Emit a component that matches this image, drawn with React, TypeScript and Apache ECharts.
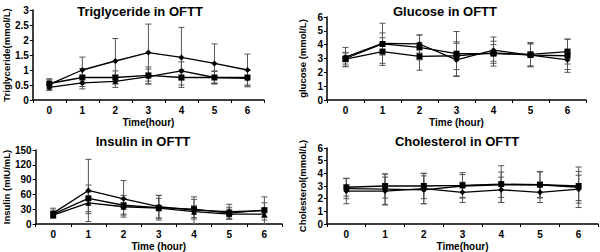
import React, { useEffect, useRef } from "react";
import * as echarts from "echarts";

const hours = ["0", "1", "2", "3", "4", "5", "6"];

const tgA = [0.52, 1.0, 1.3, 1.58, 1.42, 1.22, 1.0];
const tgASd = [0.18, 0.43, 0.75, 0.95, 1.0, 0.65, 0.53];
const tgB = [0.55, 0.75, 0.75, 0.82, 0.75, 0.75, 0.75];
const tgBSd = [0.15, 0.3, 0.22, 0.28, 0.25, 0.22, 0.25];
const tgC = [0.42, 0.57, 0.62, 0.78, 0.97, 0.75, 0.72];
const tgCSd = [0.1, 0.2, 0.2, 0.25, 0.3, 0.2, 0.28];

const gluA = [3.1, 4.1, 4.05, 2.9, 3.6, 3.25, 2.9];
const gluASd = [0.7, 1.45, 0.65, 1.2, 0.95, 0.85, 0.7];
const gluB = [3.0, 4.05, 3.8, 3.35, 3.35, 3.3, 3.5];
const gluBSd = [0.4, 0.8, 0.9, 1.6, 0.9, 0.85, 0.9];
const gluC = [2.95, 3.5, 3.15, 3.2, 3.4, 3.25, 3.2];
const gluCSd = [0.5, 1.0, 1.0, 1.0, 0.6, 0.8, 1.2];

const insA = [22, 68, 51, 35, 28, 25, 27];
const insASd = [10, 63, 37, 23, 27, 15, 28];
const insB = [20, 52, 38, 33, 30, 22, 28];
const insBSd = [8, 27, 20, 25, 20, 12, 15];
const insC = [18, 43, 35, 32, 25, 20, 20];
const insCSd = [6, 22, 15, 20, 12, 10, 12];

const chA = [2.9, 3.0, 3.0, 3.05, 3.15, 3.1, 3.0];
const chASd = [0.7, 0.95, 1.0, 1.0, 1.45, 1.05, 1.15];
const chB = [2.8, 2.75, 2.7, 3.0, 3.1, 3.1, 2.9];
const chBSd = [0.8, 1.2, 1.1, 0.9, 1.0, 1.0, 1.6];
const chC = [2.6, 2.6, 2.8, 2.5, 2.7, 2.5, 2.75];
const chCSd = [1.0, 1.1, 1.2, 0.8, 1.0, 0.8, 1.1];

const FONT = "Liberation Sans, Arial, sans-serif";

function errSeries(idx: number, mean: number[], sd: number[]) {
  return {
    type: "custom",
    xAxisIndex: idx,
    yAxisIndex: idx,
    z: 1,
    silent: true,
    data: mean.map((m, i) => [i, Math.max(0, m - sd[i]), m + sd[i]]),
    renderItem: (params: any, api: any) => {
      const lo = api.coord([api.value(0), api.value(1)]);
      const hi = api.coord([api.value(0), api.value(2)]);
      const w = 3;
      const style = { stroke: "#555", lineWidth: 1 };
      return {
        type: "group",
        children: [
          { type: "line", shape: { x1: hi[0], y1: hi[1], x2: lo[0], y2: lo[1] }, style },
          { type: "line", shape: { x1: hi[0] - w, y1: hi[1], x2: hi[0] + w, y2: hi[1] }, style },
          { type: "line", shape: { x1: lo[0] - w, y1: lo[1], x2: lo[0] + w, y2: lo[1] }, style },
        ],
      };
    },
  };
}

function lineSeries(idx: number, data: number[], symbol: string, size: number) {
  return {
    type: "line",
    xAxisIndex: idx,
    yAxisIndex: idx,
    data,
    symbol,
    symbolSize: size,
    z: 3,
    lineStyle: { color: "#000", width: 1.3 },
    itemStyle: { color: "#000" },
  };
}

const panels = [
  { title: "Triglyceride in OFTT", tx: 135, ty: 0, grid: { left: 29, top: 10, width: 235, height: 90 }, yName: "Triglyceride(mmol/L)", xName: "Time(hour)", min: 0, max: 3, interval: 0.5 },
  { title: "Glucose in OFTT", tx: 440, ty: 0, grid: { left: 327, top: 17, width: 259, height: 83 }, yName: "glucose (mmol/L)", xName: "Time (hour)", min: 0, max: 6, interval: 1 },
  { title: "Insulin in OFTT", tx: 138, ty: 130, grid: { left: 30, top: 150, width: 252, height: 80 }, yName: "Insulin (mIU/mL)", xName: "Time (hour)", min: 0, max: 150, interval: 30 },
  { title: "Cholesterol in OFTT", tx: 452, ty: 130, grid: { left: 327, top: 148, width: 271, height: 82 }, yName: "Cholesterol(mmol/L)", xName: "Time(hour)", min: 0, max: 6, interval: 1 },
];

export default function App() {
  const ref = useRef<HTMLDivElement>(null);
  useEffect(() => {
    document.body.style.margin = "0";
    const chart = echarts.init(ref.current!, null, { renderer: "svg" });
    const axisText = { color: "#000", fontSize: 10, fontWeight: "bold" as const, fontFamily: FONT };
    const option: any = {
      animation: false,
      backgroundColor: "#fff",
      title: panels.map((p) => ({
        text: p.title,
        left: p.tx,
        top: p.ty,
        textAlign: "center",
        textStyle: { color: "#000", fontSize: 13, fontWeight: "bold", fontFamily: FONT },
      })),
      grid: panels.map((p) => ({ ...p.grid, containLabel: false })),
      xAxis: panels.map((p, i) => ({
        type: "category",
        gridIndex: i,
        data: hours,
        boundaryGap: true,
        name: p.xName,
        nameLocation: "middle",
        nameGap: 17,
        nameTextStyle: { ...axisText },
        axisLine: { lineStyle: { color: "#000", width: 1.5 } },
        axisTick: { show: true, length: 3, lineStyle: { color: "#000" } },
        axisLabel: { ...axisText, margin: 5 },
        splitLine: { show: false },
      })),
      yAxis: panels.map((p, i) => ({
        type: "value",
        gridIndex: i,
        min: p.min,
        max: p.max,
        interval: p.interval,
        name: p.yName,
        nameLocation: "middle",
        nameRotate: 90,
        nameGap: 20,
        nameTextStyle: { ...axisText, fontSize: 9.5 },
        axisLine: { show: true, lineStyle: { color: "#000", width: 1.5 } },
        axisTick: { show: true, length: 3, lineStyle: { color: "#000" } },
        axisLabel: { ...axisText, margin: 4 },
        splitLine: { show: false },
      })),
      series: [
        errSeries(0, tgA, tgASd), errSeries(0, tgB, tgBSd), errSeries(0, tgC, tgCSd),
        lineSeries(0, tgA, "diamond", 6), lineSeries(0, tgB, "rect", 6), lineSeries(0, tgC, "circle", 5),
        errSeries(1, gluA, gluASd), errSeries(1, gluB, gluBSd), errSeries(1, gluC, gluCSd),
        lineSeries(1, gluA, "diamond", 6), lineSeries(1, gluB, "rect", 6), lineSeries(1, gluC, "rect", 6),
        errSeries(2, insA, insASd), errSeries(2, insB, insBSd), errSeries(2, insC, insCSd),
        lineSeries(2, insA, "diamond", 6), lineSeries(2, insB, "rect", 6), lineSeries(2, insC, "triangle", 6),
        errSeries(3, chA, chASd), errSeries(3, chB, chBSd), errSeries(3, chC, chCSd),
        lineSeries(3, chA, "rect", 6), lineSeries(3, chB, "circle", 5), lineSeries(3, chC, "diamond", 6),
      ],
    };
    chart.setOption(option);
    return () => chart.dispose();
  }, []);
  return <div ref={ref} style={{ position: "absolute", left: 0, top: 0, width: 600, height: 252 }} />;
}
